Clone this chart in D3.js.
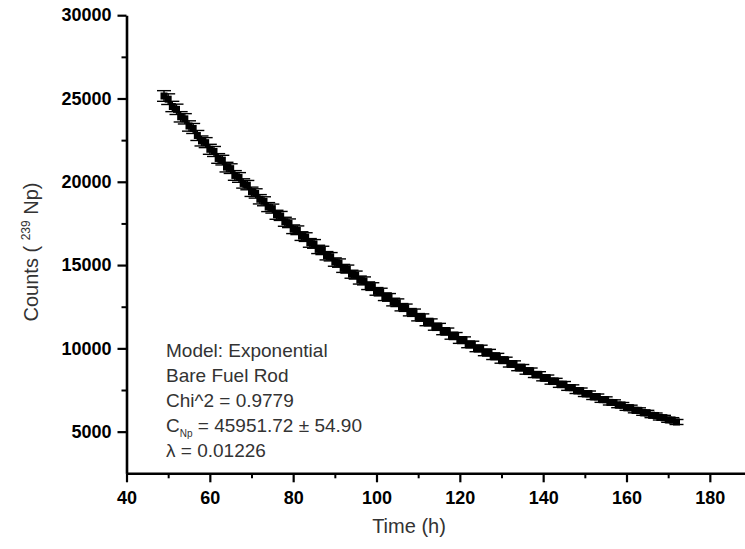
<!DOCTYPE html>
<html>
<head>
<meta charset="utf-8">
<script src="https://cdn.jsdelivr.net/npm/d3@7"></script>
<style>
  html, body { margin: 0; padding: 0; background: #fff; }
  svg { display: block; }
</style>
</head>
<body>
<svg id="chart" width="745" height="549"></svg>
<script>
// ---- data ----
const times = [49,50,51,52,53,54,55,56,57,58,59,60,61,62,63,64,65,66,67,68,69,70,71,72,73,74,75,76,77,78,79,80,
  81,82,83,84,85,86,87,88,89,90,91,92,93,94,95,96,97,98,99,100,101,102,103,104,105,106,107,108,109,110,
  111,112,113,114,115,116,117,118,119,120,121,122,123,124,125,126,127,128,129,130,131,132,133,134,135,136,
  137,138,139,140,141,142,143,144,145,146,147,148,149,150,151,152,153,154,155,156,157,158,159,160,161,162,
  163,164,165,166,167,168,169,170,171,172];
const counts = [25150,24960,24520,24350,23900,23780,23350,23200,22780,22450,22350,21950,21820,21400,21300,20880,
  20790,20380,20260,19900,19800,19400,19300,18950,18830,18480,18390,18020,17950,17600,17510,17150,
  17090,16740,16680,16330,16270,15940,15880,15560,15500,15180,15120,14800,14760,14450,14400,14100,
  14050,13760,13710,13420,13380,13100,13060,12780,12740,12470,12440,12170,12140,11870,11850,11580,
  11560,11300,11290,11030,11010,10760,10740,10500,10490,10240,10230,10000,9990,9760,9740,9530,
  9510,9300,9280,9070,9060,8850,8840,8640,8630,8430,8420,8230,8220,8030,8020,7840,
  7830,7650,7640,7460,7450,7280,7270,7100,7090,6930,6920,6760,6750,6600,6590,6440,
  6430,6290,6270,6140,6120,5990,5970,5850,5830,5710,5690,5580];
const errors = [320,320,310,310, 310,310,310,300, 300,300,300,300, 300,290,290,290, 290,290,290,280,
  280,280,280,280, 270,270,270,270, 270,270,260,260, 260,260,260,260, 260,250,250,250,
  250,250,250,240, 240,240,240,240, 240,230,230,230, 230,230,230,230, 230,220,220,220,
  220,220,220,220, 210,210,210,210, 210,210,210,200, 200,200,200,200, 200,200,200,200,
  190,190,190,190, 190,190,190,190, 190,180,180,180, 180,180,180,180, 180,170,170,170,
  170,170,170,170, 170,170,170,160, 160,160,160,160, 160,160,160,160, 160,150,150,150,
  150,150,150,150];
const fitTimes  = [49,55,60,65,70,75,80,85,90,95,100,105,110,115,120,125,130,135,140,145,150,155,160,165,170,172];
const fitCounts = [25200,23413,22021,20712,19480,18322,17232,16208,15243,14338,13485,12684,11929,11220,10552,
  9925,9335,8780,8258,7767,7305,6871,6462,6078,5717,5578];
const xTicks = [40,60,80,100,120,140,160,180];
const xMinor = [50,70,90,110,130,150,170,190];
const yTicks = [5000,10000,15000,20000,25000,30000];
const yMinor = [7500,12500,17500,22500,27500];
const infoLines = ["Model: Exponential","Bare Fuel Rod","Chi^2 = 0.9779"];
const cLabel = ["C", "Np", " = 45951.72 ± 54.90"];
const lambdaLabel = "λ = 0.01226";

// ---- drawing ----
const svg = d3.select("#chart");
const FONT = "'Liberation Sans', Arial, Helvetica, sans-serif";
const x = d3.scaleLinear().domain([40, 190]).range([126.5, 751.5]);
const y = d3.scaleLinear().domain([2500, 30000]).range([473.3, 15.2]);

const pts = times.map((t, i) => ({t, c: counts[i], e: errors[i]}));

// error bars
const eb = svg.append("g").attr("stroke", "#000").attr("stroke-width", 1.4);
eb.selectAll("line.v").data(pts).join("line").attr("class","v")
  .attr("x1", d => x(d.t)).attr("x2", d => x(d.t))
  .attr("y1", d => y(d.c - d.e)).attr("y2", d => y(d.c + d.e));
eb.selectAll("line.top").data(pts).join("line").attr("class","top")
  .attr("x1", d => x(d.t) - 7).attr("x2", d => x(d.t) + 7)
  .attr("y1", d => y(d.c + d.e)).attr("y2", d => y(d.c + d.e));
eb.selectAll("line.bot").data(pts).join("line").attr("class","bot")
  .attr("x1", d => x(d.t) - 7).attr("x2", d => x(d.t) + 7)
  .attr("y1", d => y(d.c - d.e)).attr("y2", d => y(d.c - d.e));

// markers
svg.append("g").selectAll("rect").data(pts).join("rect")
  .attr("x", d => x(d.t) - 3.5).attr("y", d => y(d.c) - 3.5)
  .attr("width", 7).attr("height", 7).attr("fill", "#000");

// fit curve
const fit = fitTimes.map((t, i) => [t, fitCounts[i]]);
svg.append("path").datum(fit)
  .attr("fill", "none").attr("stroke", "#000").attr("stroke-width", 3)
  .attr("d", d3.line().x(d => x(d[0])).y(d => y(d[1])).curve(d3.curveMonotoneX));

// axes
function styleAxis(g) {
  g.selectAll("text").attr("font-family", FONT).attr("font-size", 18)
    .attr("font-weight", "bold").attr("fill", "#000");
  g.selectAll("line").attr("stroke", "#000").attr("stroke-width", 2.2);
  g.select(".domain").attr("stroke", "#000").attr("stroke-width", 2.6);
}
const gx = svg.append("g").attr("transform", "translate(0,473.3)")
  .call(d3.axisBottom(x).tickValues(xTicks).tickSize(9).tickPadding(9).tickSizeOuter(0).tickFormat(d3.format("d")));
styleAxis(gx);
const gxm = svg.append("g").attr("transform", "translate(0,473.3)")
  .call(d3.axisBottom(x).tickValues(xMinor).tickSize(5).tickFormat(""));
gxm.select(".domain").remove();
gxm.selectAll("line").attr("stroke", "#000").attr("stroke-width", 2);

const gy = svg.append("g").attr("transform", "translate(126.5,0)")
  .call(d3.axisLeft(y).tickValues(yTicks).tickSize(9).tickPadding(6).tickSizeOuter(0).tickFormat(d3.format("d")));
styleAxis(gy);
const gym = svg.append("g").attr("transform", "translate(126.5,0)")
  .call(d3.axisLeft(y).tickValues(yMinor).tickSize(5).tickFormat(""));
gym.select(".domain").remove();
gym.selectAll("line").attr("stroke", "#000").attr("stroke-width", 2);

// axis titles
svg.append("text").attr("x", 409).attr("y", 533).attr("text-anchor", "middle")
  .attr("font-family", FONT).attr("font-size", 20).attr("fill", "#333").text("Time (h)");
const yt = svg.append("text").attr("transform", "translate(38,252) rotate(-90)")
  .attr("text-anchor", "middle").attr("font-family", FONT).attr("font-size", 20).attr("fill", "#333");
yt.append("tspan").text("Counts ( ");
yt.append("tspan").attr("font-size", 12).attr("dy", -8).text("239");
yt.append("tspan").attr("dy", 8).text(" Np)");

// info text
const info = svg.append("g").attr("font-family", FONT).attr("font-size", 19).attr("fill", "#333");
const rowY = [357, 382, 407, 432, 457];
infoLines.forEach((s, i) => info.append("text").attr("x", 166).attr("y", rowY[i]).text(s));
const ct = info.append("text").attr("x", 166).attr("y", rowY[3]);
ct.append("tspan").text(cLabel[0]);
ct.append("tspan").attr("font-size", 10).attr("dy", 5).text(cLabel[1]);
ct.append("tspan").attr("dy", -5).text(cLabel[2]);
info.append("text").attr("x", 166).attr("y", rowY[4]).text(lambdaLabel);
</script>
</body>
</html>
